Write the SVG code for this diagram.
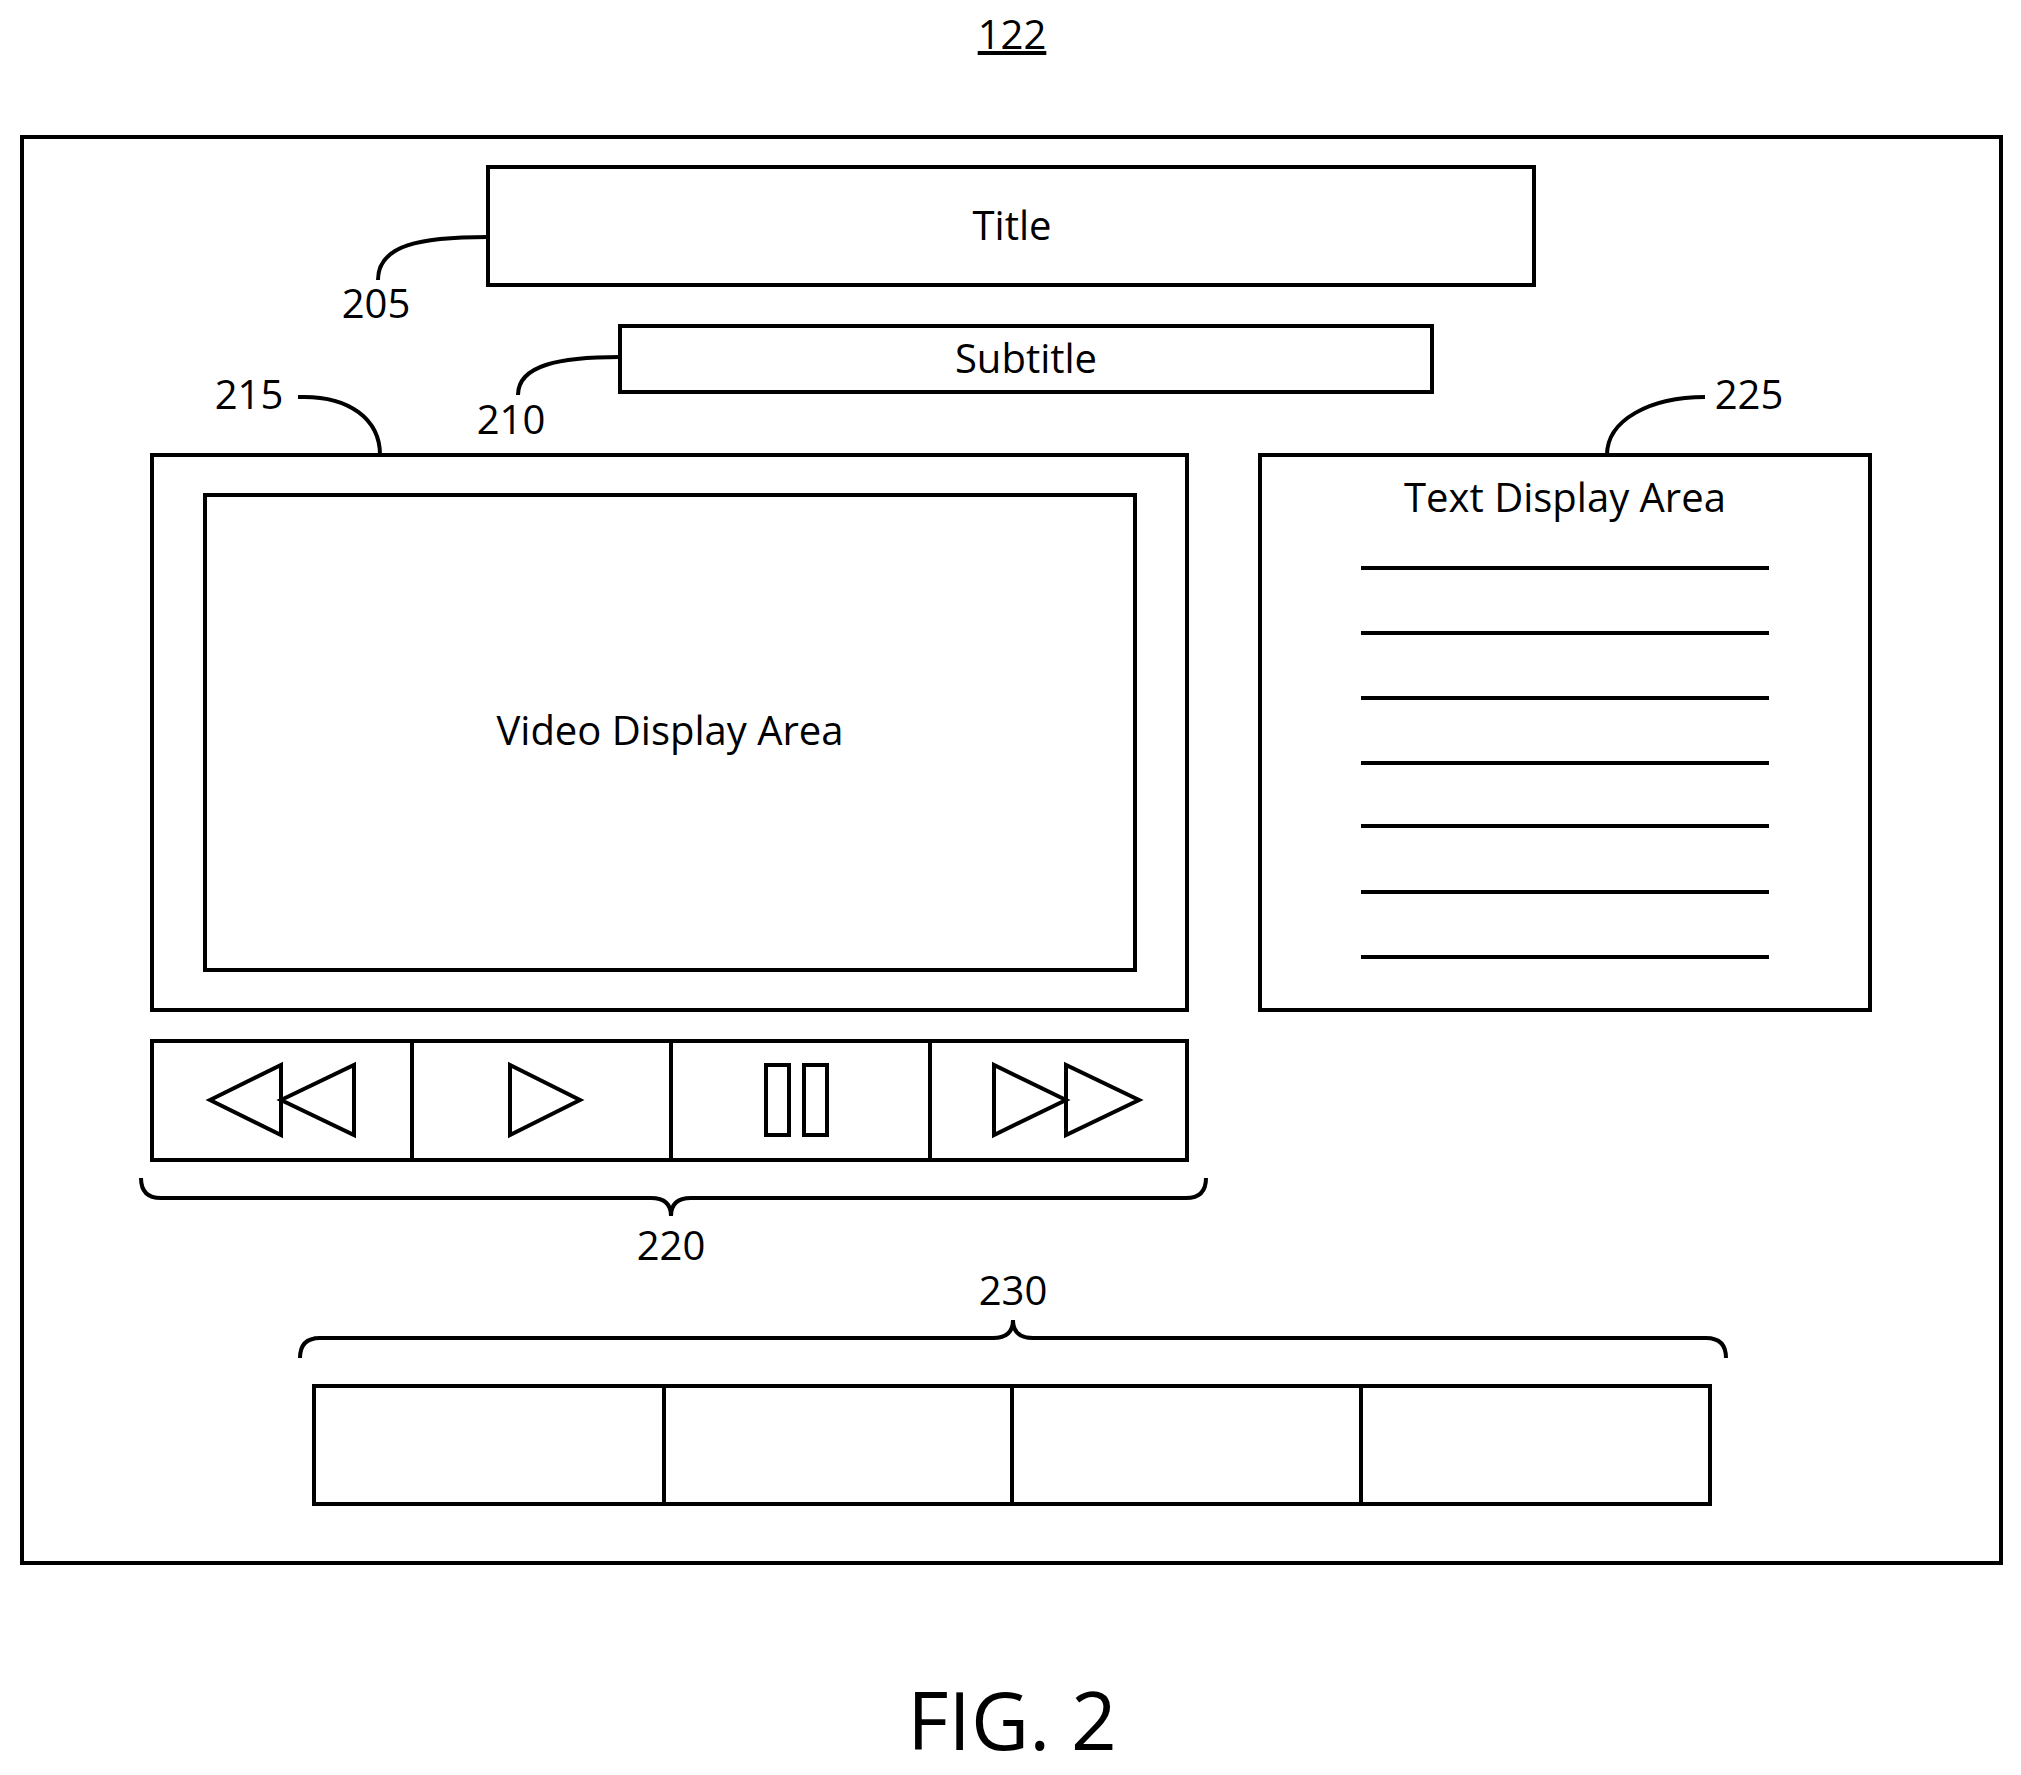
<svg xmlns="http://www.w3.org/2000/svg" width="2021" height="1775" viewBox="0 0 2021 1775">
<style>
.b{fill:none;stroke:#000;stroke-width:4}
.t{font-family:"Open Sans","Liberation Sans",sans-serif;font-size:40px;text-anchor:middle;fill:#000}
</style>
<rect width="2021" height="1775" fill="#fff"/>
<text class="t" x="1012" y="49" text-decoration="underline">122</text>
<rect id="frame" class="b" x="22" y="137" width="1979" height="1426"/>
<g id="title"><rect class="b" x="488" y="167" width="1046" height="118"/><text class="t" x="1012" y="240">Title</text></g>
<g id="subtitle"><rect class="b" x="620" y="326" width="812" height="66"/><text class="t" x="1026" y="373">Subtitle</text></g>
<g id="video"><rect class="b" x="152" y="455" width="1035" height="555"/><rect class="b" x="205" y="495" width="930" height="475"/><text class="t" x="670" y="745">Video Display Area</text></g>
<g id="textarea"><rect class="b" x="1260" y="455" width="610" height="555"/><text class="t" x="1565" y="512">Text Display Area</text>
<path class="b" stroke-width="3" d="M1361 568H1769M1361 633H1769M1361 698H1769M1361 763H1769M1361 826H1769M1361 892H1769M1361 957H1769"/></g>
<g id="controls"><rect class="b" x="152" y="1041" width="1035" height="119"/>
<path class="b" d="M412 1041V1160M671 1041V1160M930 1041V1160"/>
<path class="b" d="M210 1100L281 1065V1135ZM281 1100L354 1065V1135Z"/>
<path class="b" d="M510 1065V1135L580 1100Z"/>
<rect class="b" x="766" y="1065" width="23" height="70"/><rect class="b" x="804" y="1065" width="23" height="70"/>
<path class="b" d="M994 1065V1135L1066 1100ZM1066 1065V1135L1139 1100Z"/></g>
<g id="thumbs"><rect class="b" x="314" y="1386" width="1396" height="118"/><path class="b" d="M664 1386V1504M1012 1386V1504M1361 1386V1504"/></g>
<g id="connectors" class="b" stroke-width="3">
<path d="M488 237C420 237 378 245 378 280"/>
<path d="M620 357C560 357 518 365 518 395"/>
<path d="M298 397C350 395 380 420 380 455"/>
<path d="M1705 397C1650 397 1607 420 1607 455"/>
<path d="M141 1178Q141 1198 161 1198H651Q671 1198 671 1216Q671 1198 691 1198H1186Q1206 1198 1206 1178"/>
<path d="M300 1358Q300 1338 320 1338H993Q1013 1338 1013 1320Q1013 1338 1033 1338H1706Q1726 1338 1726 1358"/>
</g>
<text class="t" x="376" y="318">205</text>
<text class="t" x="511" y="434">210</text>
<text class="t" x="249" y="409">215</text>
<text class="t" x="1749" y="409">225</text>
<text class="t" x="671" y="1260">220</text>
<text class="t" x="1013" y="1305">230</text>
<text class="t" x="1012" y="1750" style="font-size:80px">FIG. 2</text>
</svg>
